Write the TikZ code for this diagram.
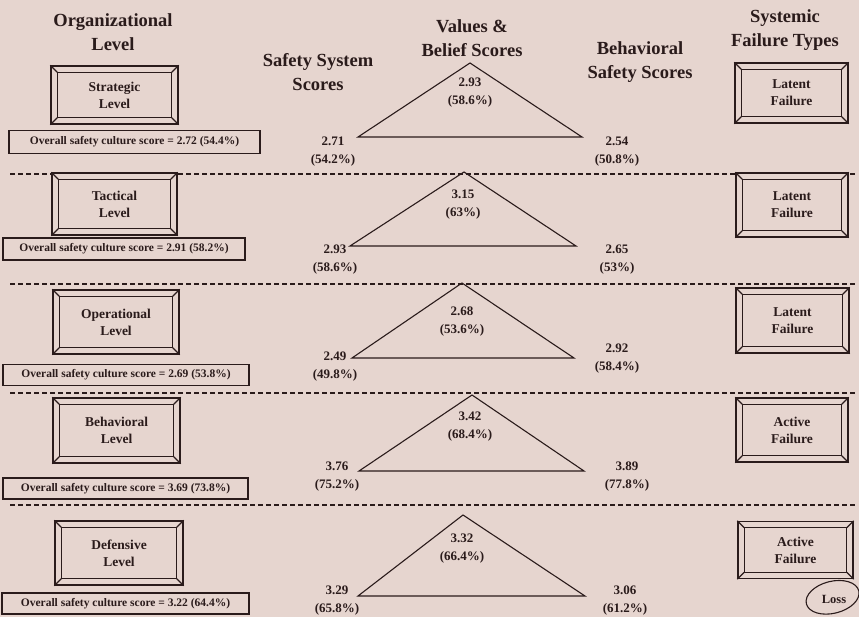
\documentclass[tikz,border=0pt]{standalone}
\usepackage{fontspec}
\setmainfont{Liberation Serif}
\usetikzlibrary{shapes.geometric}
\definecolor{bg}{HTML}{E6D5CF}
\definecolor{ink}{HTML}{2A1B1B}
\tikzset{
  hdr/.style={font=\bfseries\fontsize{18.5}{24}\selectfont, align=center, text=ink, inner sep=0pt},
  bevbox/.style={draw=ink, line width=1.3pt, fill=bg, font=\bfseries\fontsize{13.5}{17}\selectfont, align=center, text=ink, inner sep=0pt},
  scorebox/.style={draw=ink, line width=1.2pt, fill=bg, font=\bfseries\fontsize{11.5}{13}\selectfont, text=ink, inner sep=0pt},
  val/.style={font=\bfseries\fontsize{13}{18}\selectfont, align=center, text=ink, inner sep=0pt},
  tri/.style={draw=ink, line width=1.1pt, line join=miter},
  sep/.style={draw=ink, line width=1.3pt, dash pattern=on 5pt off 3pt},
  bevline/.style={draw=ink, line width=1.1pt},
  losstext/.style={inner sep=0pt, font=\bfseries\fontsize{12.5}{14}\selectfont, text=ink},
  lossline/.style={draw=ink, line width=1.1pt},
}
\newcommand\mybevel[2]{%
  \draw[bevline] ([shift={(#2,-#2)}]#1.north west) rectangle ([shift={(-#2,#2)}]#1.south east);
  \draw[bevline] (#1.north west) -- ++(#2,-#2);
  \draw[bevline] (#1.north east) -- ++(-#2,-#2);
  \draw[bevline] (#1.south west) -- ++(#2,#2);
  \draw[bevline] (#1.south east) -- ++(-#2,#2);
}
\begin{document}
\begin{tikzpicture}[x=1pt,y=-1pt]
\fill[bg] (0,0) rectangle (859,617);
\useasboundingbox (0,0) rectangle (859,617);

% headers
\node[hdr] (h1) at (113,32) {Organizational\\Level};
\node[hdr] (h2) at (318,72) {Safety System\\Scores};
\node[hdr] (h3) at (472,38) {Values \&\\Belief Scores};
\node[hdr] (h4) at (640,62) {Behavioral\\Safety Scores};
\node[hdr] (h5) at (785,30) {Systemic\\Failure Types};

% separators
\draw[sep] (10,174) -- (857,174);
\draw[sep] (10,284) -- (857,284);
\draw[sep] (10,393) -- (857,393);
\draw[sep] (10,505) -- (857,505);

% triangles
\draw[tri] (470,63) -- (358,137) -- (582,137) -- cycle;
\draw[tri] (464,172) -- (350,246) -- (576,246) -- cycle;
\draw[tri] (462,283) -- (352,358) -- (574,358) -- cycle;
\draw[tri] (472,395) -- (359,471) -- (584,471) -- cycle;
\draw[tri] (463,515) -- (358,596) -- (585,596) -- cycle;

% left level boxes
\node[bevbox, minimum width=127pt, minimum height=58pt] (l1) at (114.5,95) {Strategic\\Level};
\node[bevbox, minimum width=125pt, minimum height=62pt] (l2) at (114.5,204) {Tactical\\Level};
\node[bevbox, minimum width=126pt, minimum height=64pt] (l3) at (116,322) {Operational\\Level};
\node[bevbox, minimum width=127pt, minimum height=65pt] (l4) at (116.5,430.5) {Behavioral\\Level};
\node[bevbox, minimum width=128pt, minimum height=64pt] (l5) at (119,553) {Defensive\\Level};
\mybevel{l1}{7pt}
\mybevel{l2}{7pt}
\mybevel{l3}{7pt}
\mybevel{l4}{7pt}
\mybevel{l5}{7pt}

% score boxes
\node[scorebox, minimum width=251pt, minimum height=23pt] (s1) at (134.5,142) {Overall safety culture score = 2.72 (54.4\%)};
\node[scorebox, minimum width=242pt, minimum height=22pt] (s2) at (124,249) {Overall safety culture score = 2.91 (58.2\%)};
\node[scorebox, minimum width=246pt, minimum height=21pt] (s3) at (126,375) {Overall safety culture score = 2.69 (53.8\%)};
\node[scorebox, minimum width=245pt, minimum height=21pt] (s4) at (125.5,488.5) {Overall safety culture score = 3.69 (73.8\%)};
\node[scorebox, minimum width=247pt, minimum height=21pt] (s5) at (125.5,603.5) {Overall safety culture score = 3.22 (64.4\%)};

% values row 1
\node[val] (t1) at (470,93) {2.93\\(58.6\%)};
\node[val] (a1) at (333,152) {2.71\\(54.2\%)};
\node[val] (b1) at (617,152) {2.54\\(50.8\%)};
% row 2
\node[val] (t2) at (463,205) {3.15\\(63\%)};
\node[val] (a2) at (335,260) {2.93\\(58.6\%)};
\node[val] (b2) at (617,260) {2.65\\(53\%)};
% row 3
\node[val] (t3) at (462,322) {2.68\\(53.6\%)};
\node[val] (a3) at (335,367) {2.49\\(49.8\%)};
\node[val] (b3) at (617,359) {2.92\\(58.4\%)};
% row 4
\node[val] (t4) at (470,427) {3.42\\(68.4\%)};
\node[val] (a4) at (337,477) {3.76\\(75.2\%)};
\node[val] (b4) at (627,477) {3.89\\(77.8\%)};
% row 5
\node[val] (t5) at (462,549) {3.32\\(66.4\%)};
\node[val] (a5) at (337,601) {3.29\\(65.8\%)};
\node[val] (b5) at (625,601) {3.06\\(61.2\%)};

% right failure boxes
\node[bevbox, minimum width=113pt, minimum height=60pt] (r1) at (791.5,93) {Latent\\Failure};
\node[bevbox, minimum width=112pt, minimum height=64pt] (r2) at (792,205) {Latent\\Failure};
\node[bevbox, minimum width=113pt, minimum height=65pt] (r3) at (792.5,320.5) {Latent\\Failure};
\node[bevbox, minimum width=112pt, minimum height=64pt] (r4) at (792,430) {Active\\Failure};
\node[bevbox, minimum width=115pt, minimum height=57pt] (r5) at (795.5,550) {Active\\Failure};
\mybevel{r1}{7pt}
\mybevel{r2}{7pt}
\mybevel{r3}{7pt}
\mybevel{r4}{7pt}
\mybevel{r5}{7pt}

% loss
\node[losstext] (loss) at (834,599) {Loss};
\draw[lossline, rotate around={14:(loss.center)}] ([xshift=-1pt,yshift=2pt]loss.center) ellipse [x radius=27pt, y radius=16pt];
\end{tikzpicture}
\end{document}
